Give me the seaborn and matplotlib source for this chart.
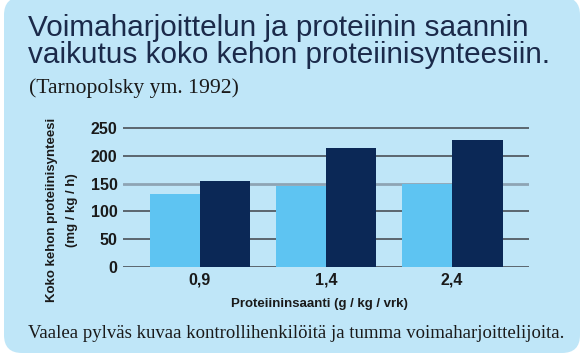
import pandas as pd
import matplotlib.pyplot as plt
import seaborn as sns
from matplotlib.patches import FancyBboxPatch
from matplotlib.transforms import IdentityTransform

# data
saanti = ['0,9', '1,4', '2,4']
kontrolli = [132, 145, 150]
voimaharjoittelijat = [155, 214, 229]
ryhmat = ['Kontrolli', 'Voimaharjoittelu']

df = pd.DataFrame({
    'saanti': saanti * 2,
    'synteesi': kontrolli + voimaharjoittelijat,
    'ryhma': [ryhmat[0]] * 3 + [ryhmat[1]] * 3,
})

sns.set_style('white')
plt.rcParams['font.family'] = ['Liberation Sans Narrow', 'Liberation Sans', 'DejaVu Sans']

tausta = '#bfe6f8'
vaalea = '#5ec4f2'
tumma = '#0b2856'
teksti = '#1b2a4a'

fig = plt.figure(figsize=(5.85, 3.57), dpi=100)
fig.patch.set_facecolor('white')

# rounded light blue panel
paneeli = FancyBboxPatch((4, 4), 576, 356, boxstyle='round,pad=0,rounding_size=18',
                         transform=IdentityTransform(), facecolor=tausta, edgecolor='none', zorder=0)
fig.add_artist(paneeli)

ax = fig.add_axes([0.2103, 0.2521, 0.694, 0.405])
ax.set_facecolor('none')

sns.barplot(data=df, x='saanti', y='synteesi', hue='ryhma', palette=[vaalea, tumma],
            width=0.8, saturation=1, legend=False, ax=ax, zorder=3, edgecolor='none')

ax.set_xlim(-0.61, 2.61)
ax.set_ylim(0, 260)
ax.set_yticks([0, 50, 100, 150, 200, 250])
ax.grid(axis='y', color='#4a5058', linewidth=1.2)
ax.set_axisbelow(True)
ax.get_ygridlines()[3].set_color('#8ea4b4')
ax.get_ygridlines()[3].set_linewidth(2)
for s in ax.spines.values():
    s.set_visible(False)
ax.tick_params(length=0, pad=4)
for lab in ax.get_yticklabels() + ax.get_xticklabels():
    lab.set_fontweight('bold')
    lab.set_fontsize(11.5)
    lab.set_color('#1a1a1a')
ax.set_xlabel('')
ax.set_ylabel('')

fig.text(319 / 585, 1 - 304 / 357, 'Proteiininsaanti (g / kg / vrk)', ha='center', va='center',
         fontsize=9.5, fontweight='bold', color='#1a1a1a')
fig.text(52 / 585, 1 - 210 / 357, 'Koko kehon proteiinisynteesi', rotation=90,
         ha='center', va='center', fontsize=9.5, fontweight='bold', color='#1a1a1a')
fig.text(72 / 585, 1 - 210 / 357, '(mg / kg / h)', rotation=90,
         ha='center', va='center', fontsize=9.5, fontweight='bold', color='#1a1a1a')

fig.text(28 / 585, 1 - 36 / 357, 'Voimaharjoittelun ja proteiinin saannin', ha='left',
         va='baseline', fontsize=21.4, color=teksti, family=['Liberation Sans', 'DejaVu Sans'])
fig.text(28 / 585, 1 - 63 / 357, 'vaikutus koko kehon proteiinisynteesiin.', ha='left',
         va='baseline', fontsize=21.4, color=teksti, family=['Liberation Sans', 'DejaVu Sans'])
fig.text(29 / 585, 1 - 93 / 357, '(Tarnopolsky ym. 1992)', ha='left', va='baseline',
         fontsize=15.6, color='#1a1a1a', family=['Liberation Serif', 'DejaVu Serif'])
fig.text(28 / 585, 1 - 338 / 357,
         'Vaalea pylväs kuvaa kontrollihenkilöitä ja tumma voimaharjoittelijoita.',
         ha='left', va='baseline', fontsize=13.5, color='#1a1a1a',
         family=['Liberation Serif', 'DejaVu Serif'])

fig.savefig('out.png', dpi=100)
